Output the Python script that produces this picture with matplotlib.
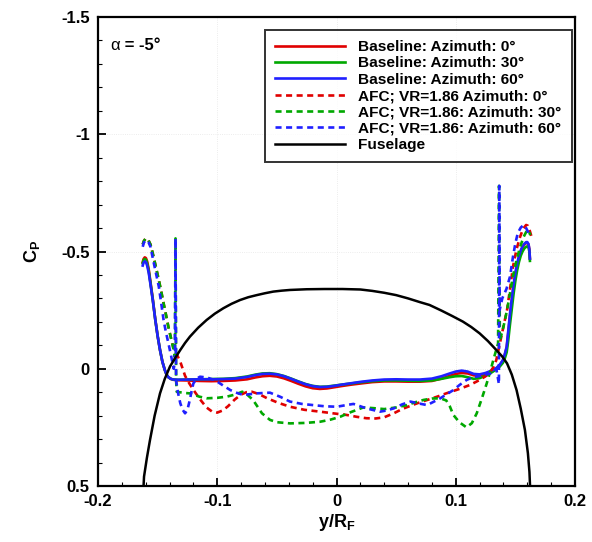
import matplotlib
matplotlib.use("Agg")
import matplotlib.pyplot as plt
from matplotlib.ticker import FixedLocator, MultipleLocator, FuncFormatter

plt.rcParams['font.family'] = ['Liberation Sans', 'DejaVu Sans']
plt.rcParams['font.weight'] = 'bold'
plt.rcParams['axes.unicode_minus'] = False

# ---------------- data ----------------
fus_x = [-0.1618, -0.1614, -0.159, -0.1564, -0.1525, -0.148, -0.144, -0.1396, -0.135, -0.131,
         -0.127, -0.1229, -0.116, -0.1089, -0.102, -0.0949, -0.088, -0.0809, -0.074, -0.0669,
         -0.060, -0.053, -0.046, -0.039, -0.025, -0.010, 0.005, 0.020, 0.030, 0.040,
         0.050, 0.060, 0.070, 0.078, 0.088, 0.097, 0.106, 0.113, 0.120, 0.127,
         0.134, 0.139, 0.143, 0.147, 0.151, 0.1545, 0.158, 0.1605, 0.1618, 0.1623]
fus_cp = [0.5, 0.46, 0.38, 0.304, 0.20, 0.105, 0.043, -0.010, -0.048, -0.080,
          -0.110, -0.137, -0.175, -0.208, -0.235, -0.258, -0.277, -0.293, -0.305, -0.314,
          -0.322, -0.329, -0.333, -0.336, -0.339, -0.340, -0.340, -0.338, -0.332, -0.324,
          -0.314, -0.300, -0.284, -0.272, -0.248, -0.225, -0.201, -0.178, -0.151, -0.118,
          -0.080, -0.052, -0.023, 0.025, 0.091, 0.17, 0.261, 0.36, 0.44, 0.5]

base_x = [-0.1625, -0.1618, -0.1608, -0.1598, -0.1588, -0.1575, -0.156, -0.154, -0.152, -0.150,
          -0.148, -0.146, -0.144, -0.1425, -0.141, -0.139, -0.137, -0.133, -0.125, -0.115,
          -0.105, -0.095, -0.085, -0.075, -0.068, -0.062, -0.056, -0.050, -0.044, -0.038,
          -0.032, -0.026, -0.020, -0.014, -0.008, -0.002, 0.004, 0.012, 0.020, 0.030,
          0.040, 0.050, 0.060, 0.070, 0.080, 0.088, 0.095, 0.100, 0.105, 0.110,
          0.115, 0.120, 0.125, 0.130, 0.134, 0.137, 0.1395, 0.141, 0.1427, 0.144,
          0.1455, 0.147, 0.1485, 0.150, 0.1515, 0.153, 0.1545, 0.156, 0.1575, 0.159,
          0.160, 0.161, 0.1617, 0.1622]
base_az0 = [-0.455, -0.468, -0.475, -0.472, -0.458, -0.425, -0.37, -0.295, -0.212, -0.14,
            -0.08, -0.03, 0.005, 0.025, 0.036, 0.043, 0.047, 0.049, 0.050, 0.052,
            0.053, 0.052, 0.050, 0.045, 0.037, 0.032, 0.030, 0.033, 0.041, 0.052,
            0.064, 0.075, 0.083, 0.086, 0.084, 0.079, 0.074, 0.068, 0.063, 0.057,
            0.054, 0.054, 0.055, 0.055, 0.052, 0.042, 0.030, 0.022, 0.018, 0.020,
            0.028, 0.030, 0.024, 0.012, 0.0, -0.015, -0.035, -0.058, -0.09, -0.15,
            -0.225, -0.29, -0.35, -0.40, -0.44, -0.475, -0.50, -0.518, -0.53, -0.537,
            -0.537, -0.53, -0.51, -0.47]
base_az30 = [-0.45, -0.462, -0.468, -0.465, -0.45, -0.418, -0.365, -0.292, -0.21, -0.14,
             -0.08, -0.03, 0.005, 0.025, 0.036, 0.043, 0.046, 0.047, 0.046, 0.045,
             0.044, 0.043, 0.040, 0.033, 0.025, 0.020, 0.019, 0.023, 0.031, 0.042,
             0.054, 0.065, 0.073, 0.077, 0.076, 0.072, 0.068, 0.063, 0.058, 0.053,
             0.050, 0.050, 0.051, 0.052, 0.050, 0.043, 0.036, 0.032, 0.031, 0.036,
             0.043, 0.040, 0.030, 0.016, 0.003, -0.01, -0.025, -0.042, -0.07, -0.12,
             -0.19, -0.255, -0.32, -0.375, -0.42, -0.455, -0.482, -0.50, -0.513, -0.52,
             -0.522, -0.518, -0.50, -0.46]
base_az60 = [-0.44, -0.452, -0.458, -0.455, -0.44, -0.41, -0.36, -0.29, -0.21, -0.14,
             -0.08, -0.03, 0.005, 0.025, 0.036, 0.043, 0.046, 0.047, 0.046, 0.045,
             0.045, 0.044, 0.042, 0.035, 0.027, 0.022, 0.021, 0.024, 0.032, 0.043,
             0.055, 0.066, 0.074, 0.078, 0.077, 0.073, 0.068, 0.062, 0.056, 0.050,
             0.046, 0.045, 0.046, 0.046, 0.042, 0.032, 0.020, 0.012, 0.008, 0.012,
             0.022, 0.024, 0.018, 0.008, -0.003, -0.018, -0.037, -0.06, -0.094, -0.16,
             -0.236, -0.30, -0.36, -0.41, -0.45, -0.48, -0.505, -0.522, -0.533, -0.54,
             -0.54, -0.532, -0.51, -0.47]

afc0_x = [-0.1625, -0.1615, -0.1603, -0.159, -0.1577, -0.156, -0.154, -0.1515, -0.149, -0.147,
          -0.145, -0.143, -0.141, -0.139, -0.137, -0.134, -0.131, -0.129, -0.127, -0.1235,
          -0.120, -0.1145, -0.109, -0.1045, -0.100, -0.0955, -0.091, -0.0855, -0.080, -0.0755,
          -0.071, -0.065, -0.0585, -0.049, -0.039, -0.027, -0.0138, -0.003, 0.0085, 0.017,
          0.025, 0.033, 0.040, 0.048, 0.055, 0.062, 0.070, 0.078, 0.085, 0.092,
          0.102, 0.112, 0.120, 0.125, 0.129, 0.132, 0.134, 0.137, 0.140, 0.143,
          0.1455, 0.148, 0.151, 0.154, 0.1565, 0.159, 0.1605, 0.162, 0.1637]
afc0_cp = [-0.53, -0.545, -0.554, -0.556, -0.548, -0.53, -0.49, -0.435, -0.378, -0.33,
           -0.279, -0.23, -0.179, -0.135, -0.094, -0.062, -0.03, 0.0, 0.03, 0.062,
           0.09, 0.13, 0.165, 0.182, 0.187, 0.178, 0.16, 0.132, 0.11, 0.10,
           0.098, 0.108, 0.125, 0.145, 0.162, 0.175, 0.183, 0.19, 0.197, 0.205,
           0.211, 0.212, 0.207, 0.19, 0.172, 0.158, 0.143, 0.13, 0.118, 0.105,
           0.088, 0.069, 0.048, 0.032, 0.013, -0.01, -0.037, -0.108, -0.18, -0.25,
           -0.34, -0.435, -0.51, -0.563, -0.597, -0.613, -0.61, -0.59, -0.56]

afc30_x = [-0.1625, -0.1615, -0.1603, -0.159, -0.1577, -0.156, -0.154, -0.1515, -0.149, -0.147,
           -0.145, -0.143, -0.141, -0.139, -0.137, -0.1355, -0.135, -0.1345, -0.134, -0.128,
           -0.123, -0.115, -0.109, -0.100, -0.092, -0.085, -0.079, -0.075, -0.070, -0.0625,
           -0.0558, -0.050, -0.039, -0.026, -0.0138, -0.005, 0.003, 0.012, 0.0225, 0.031,
           0.040, 0.050, 0.059, 0.066, 0.073, 0.080, 0.087, 0.092, 0.095, 0.098,
           0.103, 0.109, 0.1135, 0.1176, 0.122, 0.126, 0.129, 0.1315, 0.1355, 0.1363,
           0.137, 0.140, 0.143, 0.1455, 0.148, 0.151, 0.154, 0.157, 0.159, 0.161, 0.1625]
afc30_cp = [-0.53, -0.545, -0.553, -0.556, -0.548, -0.53, -0.49, -0.435, -0.378, -0.33,
            -0.279, -0.23, -0.179, -0.135, -0.09, -0.05, -0.556, 0.05, 0.098, 0.103,
            0.105, 0.119, 0.126, 0.124, 0.119, 0.11, 0.098, 0.11, 0.133, 0.19,
            0.218, 0.228, 0.233, 0.231, 0.226, 0.217, 0.205, 0.185, 0.165, 0.168,
            0.172, 0.165, 0.155, 0.143, 0.133, 0.127, 0.126, 0.135, 0.16, 0.197,
            0.228, 0.250, 0.232, 0.190, 0.125, 0.062, 0.01, -0.037, -0.108, -0.78,
            -0.12, -0.179, -0.25, -0.322, -0.395, -0.464, -0.52, -0.563, -0.583, -0.592, -0.57]

afc60_x = [-0.1625, -0.1615, -0.1603, -0.159, -0.1577, -0.156, -0.154, -0.1515, -0.149, -0.147,
           -0.145, -0.143, -0.141, -0.1385, -0.1365, -0.1355, -0.135, -0.1345, -0.133, -0.131,
           -0.129, -0.127, -0.125, -0.123, -0.1215, -0.120, -0.117, -0.1145, -0.109, -0.104,
           -0.100, -0.094, -0.089, -0.083, -0.078, -0.072, -0.067, -0.0558, -0.047, -0.039,
           -0.029, -0.0196, -0.010, 0.0003, 0.007, 0.0142, 0.020, 0.025, 0.0365, 0.042,
           0.048, 0.055, 0.062, 0.069, 0.076, 0.081, 0.087, 0.092, 0.098, 0.103,
           0.109, 0.114, 0.120, 0.125, 0.129, 0.134, 0.1362, 0.1365, 0.1368, 0.139,
           0.1425, 0.1455, 0.148, 0.150, 0.152, 0.1545, 0.157, 0.159, 0.1605, 0.162]
afc60_cp = [-0.52, -0.538, -0.546, -0.548, -0.54, -0.52, -0.47, -0.41, -0.35, -0.28,
            -0.208, -0.155, -0.11, -0.05, 0.0, -0.03, -0.556, 0.05, 0.10, 0.147,
            0.175, 0.190, 0.175, 0.133, 0.095, 0.062, 0.042, 0.034, 0.037, 0.045,
            0.055, 0.075, 0.091, 0.104, 0.112, 0.108, 0.105, 0.102, 0.12, 0.140,
            0.15, 0.155, 0.16, 0.162, 0.156, 0.150, 0.16, 0.169, 0.183, 0.178,
            0.169, 0.152, 0.140, 0.148, 0.155, 0.142, 0.126, 0.11, 0.091, 0.07,
            0.048, 0.037, 0.031, 0.025, 0.020, 0.0, 0.065, -0.78, -0.25, -0.30,
            -0.34, -0.393, -0.478, -0.535, -0.578, -0.602, -0.613, -0.60, -0.585, -0.563]

labels = ['Baseline: Azimuth: 0°', 'Baseline: Azimuth: 30°', 'Baseline: Azimuth: 60°',
          'AFC; VR=1.86 Azimuth: 0°', 'AFC; VR=1.86: Azimuth: 30°',
          'AFC; VR=1.86: Azimuth: 60°', 'Fuselage']

x_ticks = [-0.2, -0.1, 0.0, 0.1, 0.2]
y_ticks = [-1.5, -1.0, -0.5, 0.0, 0.5]

# ---------------- plot ----------------
fig = plt.figure(figsize=(5.92, 5.42), dpi=100)
ax = fig.add_axes([98 / 592, 1 - 486 / 542, 477 / 592, 469 / 542])

RED, GREEN, BLUE = '#e00000', '#00a800', '#2020ff'
lw = 1.9
dash = (0, (2.3, 1.7))

ax.plot(base_x, base_az0, color=RED, lw=lw, label=labels[0])
ax.plot(base_x, base_az30, color=GREEN, lw=lw, label=labels[1])
ax.plot(base_x, base_az60, color=BLUE, lw=lw, label=labels[2])
ax.plot(afc0_x, afc0_cp, color=RED, lw=lw, ls=dash, label=labels[3])
ax.plot(afc30_x, afc30_cp, color=GREEN, lw=lw, ls=dash, label=labels[4])
ax.plot(afc60_x, afc60_cp, color=BLUE, lw=lw, ls=dash, label=labels[5])
ax.plot(fus_x, fus_cp, color='black', lw=1.8, label=labels[6])

ax.set_xlim(-0.2, 0.2)
ax.set_ylim(0.5, -1.5)

ax.xaxis.set_major_locator(FixedLocator(x_ticks))
ax.yaxis.set_major_locator(FixedLocator(y_ticks))
ax.xaxis.set_minor_locator(MultipleLocator(0.02))
ax.yaxis.set_minor_locator(MultipleLocator(0.1))
fmt = FuncFormatter(lambda v, p: '%g' % round(v, 3))
ax.xaxis.set_major_formatter(fmt)
ax.yaxis.set_major_formatter(fmt)

ax.tick_params(which='both', direction='in', top=False, right=False, labelsize=12)
ax.tick_params(which='major', length=6, width=1.3, pad=6)
ax.tick_params(which='minor', length=3, width=0.8)
for lab in ax.get_xticklabels() + ax.get_yticklabels():
    lab.set_fontweight('bold')
for s in ax.spines.values():
    s.set_linewidth(1.6)

ax.grid(True, which='major', color='#e6e6e6', lw=0.6, ls=':')
ax.set_axisbelow(True)

ax.set_xlabel(r'y/R$_\mathregular{F}$', fontsize=13, fontweight='bold', labelpad=2)
ax.set_ylabel(r'C$_\mathregular{P}$', fontsize=13, fontweight='bold', labelpad=14)

t1 = ax.text(0.025, 0.94, 'α', fontsize=12, fontweight='normal',
             transform=ax.transAxes, ha='left', va='center')
ax.annotate(' = -5°', xy=(1, 0.5), xycoords=t1, ha='left', va='center',
            fontsize=12, fontweight='bold')

leg = ax.legend(loc='upper right', bbox_to_anchor=(0.993, 0.972), fontsize=11.1,
                frameon=True, fancybox=False, handlelength=4.5, handletextpad=0.9,
                labelspacing=0.15, borderpad=0.65, borderaxespad=0)
leg.get_frame().set_edgecolor('black')
leg.get_frame().set_linewidth(1.4)
for t in leg.get_texts():
    t.set_fontweight('bold')

fig.savefig('out.png', dpi=100)
